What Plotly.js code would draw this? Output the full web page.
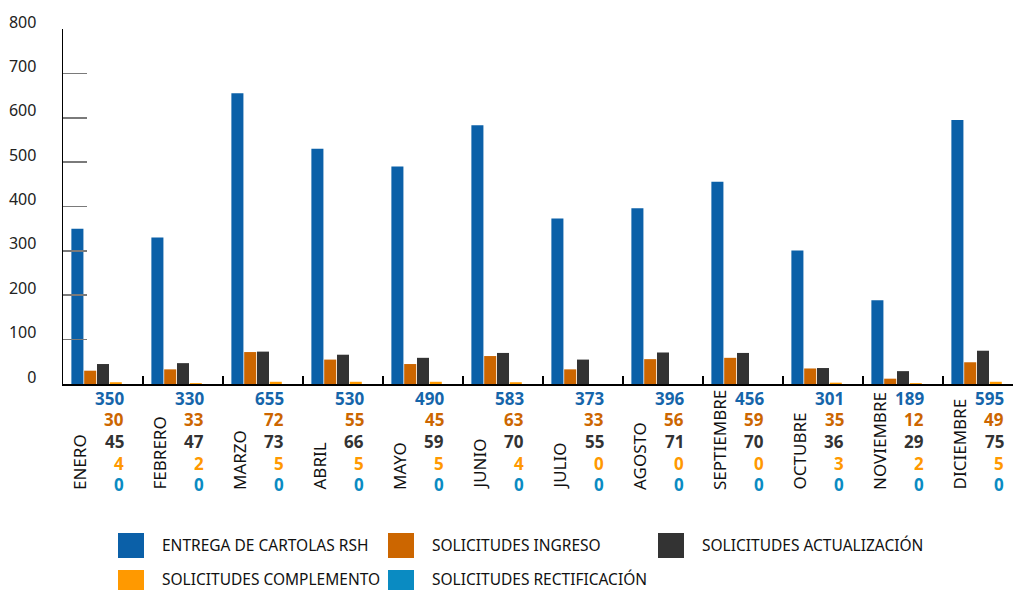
<!DOCTYPE html>
<html>
<head>
<meta charset="utf-8">
<script src="https://cdn.plot.ly/plotly-3.0.1.min.js"></script>
<style>html,body{margin:0;padding:0;background:#fff;}#chart{width:1013px;height:590px;}</style>
</head>
<body>
<div id="chart"></div>
<script>
var months = ["ENERO","FEBRERO","MARZO","ABRIL","MAYO","JUNIO","JULIO","AGOSTO","SEPTIEMBRE","OCTUBRE","NOVIEMBRE","DICIEMBRE"];
var seriesNames = ["ENTREGA DE CARTOLAS RSH","SOLICITUDES INGRESO","SOLICITUDES ACTUALIZACIÓN","SOLICITUDES COMPLEMENTO","SOLICITUDES RECTIFICACIÓN"];
var cartolas      = [350,330,655,530,490,583,373,396,456,301,189,595];
var ingreso       = [30,33,72,55,45,63,33,56,59,35,12,49];
var actualizacion = [45,47,73,66,59,70,55,71,70,36,29,75];
var complemento   = [4,2,5,5,5,4,0,0,0,3,2,5];
var rectificacion = [0,0,0,0,0,0,0,0,0,0,0,0];
var yTicks = [0,100,200,300,400,500,600,700,800];

var colors = ["#0b60a8","#cc6600","#333333","#ff9900","#0a8bc2"];
var textColors = ["#1565aa","#cc6600","#333333","#ff9900","#0a8bc2"];
var allSeries = [cartolas, ingreso, actualizacion, complemento, rectificacion];

var FONT = "Noto Sans, Open Sans, sans-serif";
var L = 63, T = 29, B = 206, W = 1013, H = 590;
var plotW = W - L, plotH = H - T - B;
function px2x(px){ return (px - L) / plotW; }
function py2y(py){ return (H - B - py) / plotH; }

var traces = allSeries.map(function(vals, i){
  return {
    type: "bar", x: months, y: vals, name: seriesNames[i],
    marker: {color: colors[i]}, hoverinfo: "skip", showlegend: false
  };
});

var annotations = [];
var rowY = [398, 419, 441, 463, 484];
allSeries.forEach(function(vals, s){
  vals.forEach(function(v, i){
    annotations.push({
      x: months[i], xref: "x", y: py2y(rowY[s]), yref: "paper",
      text: "<b>" + v + "</b>", showarrow: false,
      xanchor: "right", yanchor: "middle", xshift: 23,
      font: {family: FONT, size: 17, color: textColors[s]}
    });
  });
});
months.forEach(function(m){
  annotations.push({
    x: m, xref: "x", y: py2y(492), yref: "paper",
    text: m, showarrow: false, textangle: -90,
    xanchor: "center", yanchor: "bottom", xshift: -24,
    font: {family: FONT, size: 17, color: "#111111"}
  });
});

// custom legend
var legendPos = [[118,533,160,545],[388,533,430,545],[658,533,700,545],[118,570,160,579],[388,570,430,579]];
var shapes = [];
legendPos.forEach(function(p, i){
  shapes.push({
    type: "rect", xref: "paper", yref: "paper",
    x0: px2x(p[0]), x1: px2x(p[0] + 26), y0: py2y(p[1]), y1: py2y(p[1] + 25),
    fillcolor: colors[i], line: {width: 0}
  });
  annotations.push({
    x: px2x(p[2]), xref: "paper", y: py2y(p[3]), yref: "paper",
    text: seriesNames[i], showarrow: false, xanchor: "left", yanchor: "middle",
    font: {family: FONT, size: 15.5, color: "#111111"}
  });
});

var layout = {
  width: W, height: H,
  margin: {l: L, r: 0, t: T, b: B, pad: 0},
  paper_bgcolor: "#ffffff", plot_bgcolor: "#ffffff",
  barmode: "group", bargap: 0.2, bargroupgap: 0.06,
  showlegend: false,
  font: {family: FONT, color: "#222222"},
  xaxis: {
    type: "category", range: [-0.5, 11.375],
    showline: true, linecolor: "#000000", linewidth: 1.6,
    ticks: "inside", tickson: "boundaries", ticklen: 8, tickwidth: 1.5, tickcolor: "#000000",
    showticklabels: false, showgrid: false, zeroline: false, fixedrange: true
  },
  yaxis: {
    range: [0, 800], tickvals: yTicks, ticktext: yTicks.map(String),
    showline: true, linecolor: "#000000", linewidth: 1.4,
    ticks: "inside", ticklen: 24, tickwidth: 1.6, tickcolor: "#7a7a7a",
    ticklabelstandoff: 22, ticklabelshift: -7,
    tickfont: {family: FONT, size: 16, color: "#222222"},
    showgrid: false, zeroline: false, fixedrange: true
  },
  shapes: shapes,
  annotations: annotations
};

Plotly.newPlot("chart", traces, layout, {displayModeBar: false, staticPlot: true});
</script>
</body>
</html>
